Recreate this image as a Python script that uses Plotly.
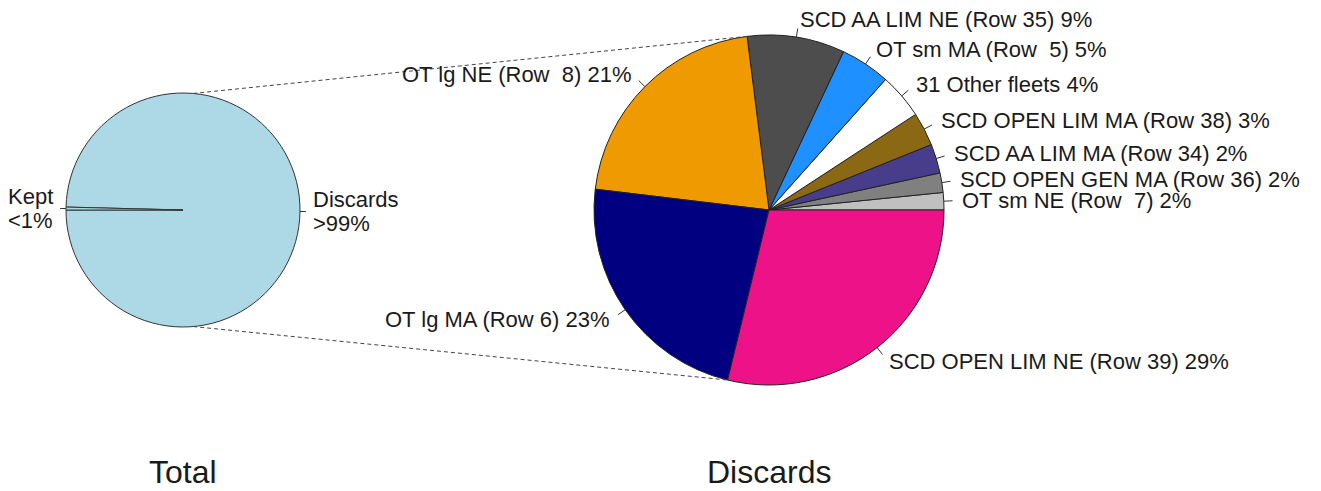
import math

import plotly.graph_objects as go

W, H = 1321, 491

# left pie: share of catch
total_labels = ["Discards", "Kept"]
total_text = ["Discards<br>&gt;99%", "Kept<br>&lt;1%"]
total_values = [99.6, 0.4]
total_colors = ["#ADD8E6", "#ADD8E6"]

# right pie: discards by fleet (counter-clockwise from 3 o'clock)
fleet_labels = [
    "OT sm NE (Row\u00a0 7)",
    "SCD OPEN GEN MA (Row 36)",
    "SCD AA LIM MA (Row 34)",
    "SCD OPEN LIM MA (Row 38)",
    "31 Other fleets",
    "OT sm MA (Row\u00a0 5)",
    "SCD AA LIM NE (Row 35)",
    "OT lg NE (Row\u00a0 8)",
    "OT lg MA (Row 6)",
    "SCD OPEN LIM NE (Row 39)",
]
fleet_pct = ["2%", "2%", "2%", "3%", "4%", "5%", "9%", "21%", "23%", "29%"]
fleet_values = [1.6, 1.8, 2.7, 3.1, 4.2, 4.6, 9.0, 21.1, 23.1, 28.8]
fleet_colors = [
    "#C0C0C0", "#808080", "#483D8B", "#8B6914", "#FFFFFF",
    "#1E90FF", "#4D4D4D", "#EE9A00", "#000080", "#EE1289",
]

# pie placement in pixels: centre x, centre y, radius
LEFT = (183, 210, 117)
RIGHT = (769, 210, 175)

TXT = "#1a1a1a"
FONT = "Liberation Sans, Arial, sans-serif"
LABEL_SIZE = 22
LINE_H = 24


def px(x):
    return x / W


def py(y):
    return 1 - y / H


def domain(c):
    cx, cy, r = c
    return dict(x=[px(cx - r), px(cx + r)], y=[py(cy + r), py(cy - r)])


def point(c, ang, k=1.0):
    cx, cy, r = c
    return cx + k * r * math.cos(ang), cy - k * r * math.sin(ang)


def ccw_rotation(start_deg, values):
    # plotly puts the first ccw slice clockwise of `rotation`, so shift it back
    return start_deg - 360 * values[0] / sum(values)


fig = go.Figure()
fig.add_trace(go.Pie(
    labels=total_labels, values=total_values, sort=False,
    direction="counterclockwise", rotation=ccw_rotation(270, total_values),
    domain=domain(LEFT),
    marker=dict(colors=total_colors, line=dict(color="#333333", width=1)),
    textinfo="none", showlegend=False,
))
fig.add_trace(go.Pie(
    labels=fleet_labels, values=fleet_values, sort=False,
    direction="counterclockwise", rotation=ccw_rotation(90, fleet_values),
    domain=domain(RIGHT),
    marker=dict(colors=fleet_colors, line=dict(color="#222222", width=1)),
    textinfo="none", showlegend=False,
))

shapes = []
annotations = []


def add_labels(c, values, texts, start):
    tot = sum(values)
    cum = 0
    bounds = []
    for v, t in zip(values, texts):
        bounds.append(start + 2 * math.pi * cum / tot)
        mid = start + 2 * math.pi * (cum + v / 2) / tot
        cum += v
        x0, y0 = point(c, mid, 1.0)
        x1, y1 = point(c, mid, 1.05)
        shapes.append(dict(type="line", xref="paper", yref="paper",
                           x0=px(x0), y0=py(y0), x1=px(x1), y1=py(y1),
                           line=dict(color="#333333", width=1)))
        tx, ty = point(c, mid, 1.1)
        right = math.cos(mid) >= 0
        lines = t.split("<br>")
        for i, line in enumerate(lines):
            yy = ty + (i - (len(lines) - 1) / 2) * LINE_H
            annotations.append(dict(
                x=px(tx), y=py(yy), xref="paper", yref="paper", text=line,
                showarrow=False, xanchor="left" if right else "right",
                yanchor="middle", align="left" if right else "right",
                borderpad=0,
                font=dict(size=LABEL_SIZE, color=TXT, family=FONT),
            ))
    return bounds


add_labels(LEFT, total_values, total_text, math.pi)
bounds = add_labels(RIGHT, fleet_values,
                    [f"{l} {p}" for l, p in zip(fleet_labels, fleet_pct)], 0)

# dashed connectors from the total pie to the discards pie
for a_left, a_right in [(math.radians(85), bounds[7]), (math.radians(275), bounds[9])]:
    x0, y0 = point(LEFT, a_left)
    x1, y1 = point(RIGHT, a_right)
    shapes.append(dict(type="line", xref="paper", yref="paper",
                       x0=px(x0), y0=py(y0), x1=px(x1), y1=py(y1),
                       line=dict(color="#444444", width=1, dash="4px,3px")))

for name, c in [("Total", LEFT), ("Discards", RIGHT)]:
    annotations.append(dict(
        x=px(c[0]), y=py(472), xref="paper", yref="paper", text=name,
        showarrow=False, xanchor="center", yanchor="middle", borderpad=0,
        font=dict(size=32, color=TXT, family=FONT),
    ))

fig.update_layout(
    width=W, height=H,
    margin=dict(l=0, r=0, t=0, b=0),
    paper_bgcolor="white", plot_bgcolor="white",
    shapes=shapes, annotations=annotations,
)
fig.write_html("out.html", config={"displayModeBar": False},
               post_script="document.body.style.margin='0';")
